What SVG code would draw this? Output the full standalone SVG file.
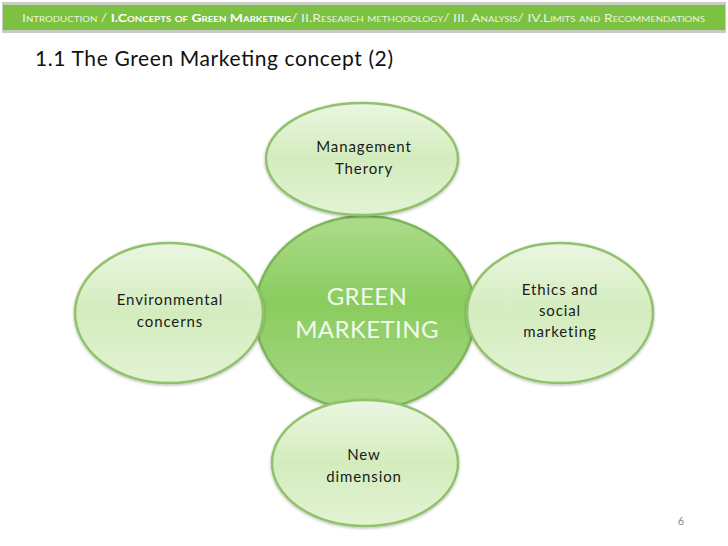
<svg xmlns="http://www.w3.org/2000/svg" width="728" height="546" viewBox="0 0 728 546">
<defs>
<linearGradient id="gSat" x1="0" y1="0" x2="0" y2="1">
<stop offset="0" stop-color="#ebf6e2"/>
<stop offset="0.5" stop-color="#d3ecbd"/>
<stop offset="1" stop-color="#e3f3d4"/>
</linearGradient>
<linearGradient id="gCen" x1="0" y1="0" x2="0" y2="1">
<stop offset="0" stop-color="#acdc8a"/>
<stop offset="0.45" stop-color="#8acc5e"/>
<stop offset="1" stop-color="#a8d986"/>
</linearGradient>
<filter id="sh" x="-10%" y="-10%" width="120%" height="120%">
<feGaussianBlur in="SourceAlpha" stdDeviation="1.5"/>
<feOffset dx="0" dy="1" result="b"/>
<feComponentTransfer><feFuncA type="linear" slope="0.3"/></feComponentTransfer>
<feMerge><feMergeNode/><feMergeNode in="SourceGraphic"/></feMerge>
</filter>
</defs>
<style>
.sat{fill:url(#gSat);stroke:#90c26c;stroke-width:2.5}
.cen{fill:url(#gCen);stroke:#7fb55a;stroke-width:2.5}
.lbl{font-family:Lato,"Open Sans",sans-serif;font-size:15px;letter-spacing:0.9px;fill:#1a1a1a;text-anchor:middle}
.big{font-family:Lato,"Open Sans",sans-serif;font-size:24px;letter-spacing:0.4px;fill:#f2f9ec;text-anchor:middle}
</style>
<rect width="728" height="546" fill="#ffffff"/>
<g id="header">
<rect x="2" y="2" width="724" height="31" fill="#c8cbc4"/>
<rect x="3" y="5" width="722" height="25" fill="#7cc142"/>
<text x="22" y="22" font-family="Lato,'Open Sans',sans-serif" font-size="11.5" font-variant="small-caps" fill="#e8f5dc" textLength="683" lengthAdjust="spacingAndGlyphs">Introduction / <tspan font-weight="bold" fill="#ffffff">I.Concepts of Green Marketing</tspan>/ II.Research methodology/ III. Analysis/ IV.Limits and Recommendations</text>
</g>
<text id="title" x="35" y="66" font-family="Lato,'Open Sans',sans-serif" font-size="21" fill="#111111" textLength="358" lengthAdjust="spacing">1.1 The Green Marketing concept (2)</text>
<g id="connectors"></g>
<g id="green-marketing">
<ellipse class="cen" cx="365" cy="313" rx="110" ry="97" filter="url(#sh)"/>
<text class="big" x="367" y="305">GREEN</text>
<text class="big" x="367" y="338">MARKETING</text>
</g>
<g id="management-theory">
<ellipse class="sat" cx="362" cy="159" rx="96" ry="56" filter="url(#sh)"/>
<text class="lbl" x="364" y="152">Management</text>
<text class="lbl" x="364" y="174">Therory</text>
</g>
<g id="environmental-concerns">
<ellipse class="sat" cx="169" cy="313" rx="94" ry="70" filter="url(#sh)"/>
<text class="lbl" x="170" y="305">Environmental</text>
<text class="lbl" x="170" y="327">concerns</text>
</g>
<g id="ethics-social-marketing">
<ellipse class="sat" cx="560" cy="313" rx="93" ry="70" filter="url(#sh)"/>
<text class="lbl" x="560" y="295">Ethics and</text>
<text class="lbl" x="560" y="316">social</text>
<text class="lbl" x="560" y="337">marketing</text>
</g>
<g id="new-dimension">
<ellipse class="sat" cx="365" cy="463" rx="93" ry="63" filter="url(#sh)"/>
<text class="lbl" x="364" y="460">New</text>
<text class="lbl" x="364" y="482">dimension</text>
</g>
<text id="page" x="681" y="525" font-family="Lato,'Open Sans',sans-serif" font-size="11" fill="#8a8a8a" text-anchor="middle">6</text>
</svg>
